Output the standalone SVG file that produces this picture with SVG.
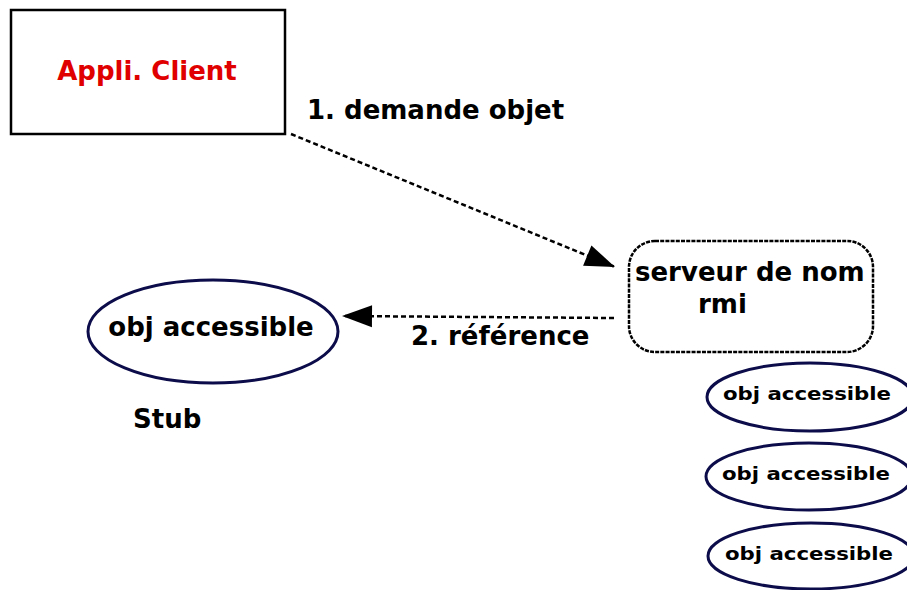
<svg xmlns="http://www.w3.org/2000/svg" width="907" height="590" viewBox="0 0 907 590">
  <style>
    text { font-family: "DejaVu Sans", "Liberation Sans", sans-serif; font-weight: bold; fill: #000; }
    .lbl { font-size: 26px; }
    .small { font-size: 17px; }
    .obj { fill: #fff; stroke: #0c0c4a; stroke-width: 3; }
    .conn { fill: none; stroke: #000; stroke-width: 2.5; stroke-dasharray: 5 3; }
  </style>
  <defs>
    <marker id="arrow" markerUnits="userSpaceOnUse" viewBox="-32 -12 34 24" markerWidth="34" markerHeight="24" refX="0" refY="0" orient="auto">
      <path d="M-30,-11 L0,0 L-30,11 Z" fill="#000"/>
    </marker>
  </defs>
  <rect width="907" height="590" fill="#fff"/>

  <g id="client">
    <rect x="11" y="10" width="274" height="124" fill="#fff" stroke="#000" stroke-width="2.5"/>
    <text x="147" y="80" text-anchor="middle" style="font-size:26px;fill:#e00000">Appli. Client</text>
  </g>

  <g id="serveur">
    <rect x="629" y="241" width="244" height="111" rx="26" ry="26" fill="#fff" stroke="#000" stroke-width="2.5" stroke-dasharray="4 1.2"/>
    <text class="lbl" x="635" y="281">serveur de nom</text>
    <text class="lbl" x="698" y="313">rmi</text>
  </g>

  <g id="stub">
    <ellipse class="obj" cx="213" cy="331.5" rx="125" ry="51.5"/>
    <text class="lbl" x="211" y="336" text-anchor="middle">obj accessible</text>
    <text class="lbl" x="133" y="428">Stub</text>
  </g>

  <g id="obj1">
    <ellipse class="obj" cx="810" cy="397" rx="103" ry="34"/>
    <text class="small" x="723" y="400" textLength="168" lengthAdjust="spacingAndGlyphs">obj accessible</text>
  </g>
  <g id="obj2">
    <ellipse class="obj" cx="809" cy="476.5" rx="103" ry="33.5"/>
    <text class="small" x="722" y="480" textLength="168" lengthAdjust="spacingAndGlyphs">obj accessible</text>
  </g>
  <g id="obj3">
    <ellipse class="obj" cx="811" cy="556" rx="103" ry="33"/>
    <text class="small" x="725" y="560" textLength="168" lengthAdjust="spacingAndGlyphs">obj accessible</text>
  </g>

  <g id="connectors">
    <line class="conn" x1="291" y1="134" x2="615" y2="267" marker-end="url(#arrow)"/>
    <text class="lbl" x="307" y="119">1. demande objet</text>
    <line class="conn" x1="614" y1="318" x2="342" y2="316" marker-end="url(#arrow)"/>
    <text class="lbl" x="411" y="345">2. référence</text>
  </g>
</svg>
